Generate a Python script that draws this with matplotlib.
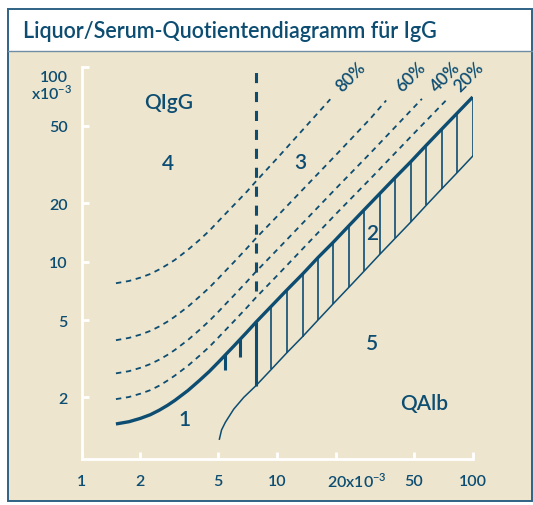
import matplotlib
matplotlib.use("Agg")
import matplotlib.pyplot as plt
from matplotlib.patches import Rectangle
from matplotlib.lines import Line2D

# Farben
blau = "#0d4d72"
beige = "#ede5cd"
rand = "#2f6285"
gewicht = "semibold"

plt.rcParams['font.family'] = ['Lato', 'DejaVu Sans']

# Obere Grenzlinie (dicke Kurve), QAlb und QIgG jeweils x10^-3
qalb_kurve = [1.5, 1.75, 2, 2.25, 2.5, 2.75, 3, 3.5, 4, 4.5, 5, 5.5, 6, 6.5, 7]
qigg_kurve = [1.46, 1.50, 1.56, 1.63, 1.72, 1.82, 1.93, 2.17, 2.44, 2.72, 3.03, 3.35, 3.67, 4.0, 4.33]

# Schraffierter Bereich 2 (Senkrechte zwischen oberer und unterer Grenze)
schraffur_x = [7.8, 9.35, 11.2, 13.5, 16.2, 19.4, 23.3, 27.9, 33.5, 40.2, 48.3, 57.9, 69.5, 83.3, 100]
schraffur_oben = [4.88, 5.90, 7.13, 8.63, 10.5, 12.6, 15.3, 18.5, 22.4, 27.1, 32.7, 39.7, 48.1, 58.1, 70.3]
schraffur_unten = [2.30, 2.79, 3.39, 4.11, 5.01, 6.08, 7.38, 8.95, 10.9, 13.2, 16.0, 19.5, 23.7, 28.7, 34.9]

# Untere Grenzlinie, Anfangsstueck
unten_x = [5.07, 5.2, 5.44, 6.0, 6.75]
unten_y = [1.22, 1.36, 1.49, 1.74, 2.0]

# Linien fuer intrathekale Fraktion (20 %, 40 %, 60 %, 80 %)
p_x = [1.5, 1.75, 2, 2.25, 2.5, 2.75, 3, 3.5, 4, 4.5, 5, 5.5, 6, 6.5, 7, 7.8]
p20_x = p_x + [10, 20, 30, 50, 73.8]
p20_y = [1.96, 2.01, 2.09, 2.18, 2.30, 2.44, 2.59, 2.91, 3.27, 3.64, 4.06, 4.49, 4.92, 5.36, 5.80, 6.54,
         8.47, 17.6, 26.7, 45.6, 68.3]
p40_x = p_x + [10, 20, 30, 55]
p40_y = [2.66, 2.73, 2.84, 2.97, 3.13, 3.31, 3.51, 3.95, 4.44, 4.95, 5.51, 6.10, 6.68, 7.28, 7.88, 8.88,
         11.5, 23.8, 36.2, 68.8]
p60_x = p_x + [10, 20, 30, 36.1]
p60_y = [3.94, 4.05, 4.21, 4.40, 4.64, 4.91, 5.21, 5.86, 6.59, 7.34, 8.18, 9.05, 9.91, 10.8, 11.7, 13.2,
         17.1, 35.4, 54.5, 67.5]
p80_x = p_x + [10, 15, 18.7]
p80_y = [7.74, 7.95, 8.27, 8.64, 9.12, 9.65, 10.2, 11.5, 12.9, 14.4, 16.1, 17.8, 19.5, 21.2, 22.9, 25.9,
         34.0, 53.5, 68.5]
prozent = ["20%", "40%", "60%", "80%"]
prozent_pos = [(96.0, 90.4), (72.6, 90.4), (48.2, 90.4), (23.9, 89.4)]

# Altersgrenze (senkrechte Strichlinie) und kurze Markierungen
grenze_x = 7.8
grenze_y = [7.1, 100]
marken_x = [5.44, 6.49]
marken_oben = [3.35, 4.0]
marken_unten = [2.78, 3.24]

# Beschriftungen der Bereiche
bereiche = ["QIgG", "4", "3", "2", "5", "1", "QAlb"]
bereiche_pos = [(2.78, 66.4), (2.77, 32.2), (13.1, 32.5), (30.5, 14.1), (30.6, 3.81), (3.37, 1.54), (56.5, 1.87)]

x_ticks = [1, 2, 5, 10, 20, 50, 100]
x_labels = ["1", "2", "5", "10", "", "50", "100"]
y_ticks = [2, 5, 10, 20, 50, 100]
y_labels = ["2", "5", "10", "20", "50", ""]

W, H = 533, 506
fig = plt.figure(figsize=(W / 100, H / 100), dpi=100)
fig.patch.set_facecolor("white")

def fx(px):
    return px / W

def fy(py):
    return 1 - py / H

# Rahmen, Titelfeld und beiger Hintergrund
fig.add_artist(Rectangle((fx(8), fy(502)), fx(531.5) - fx(8), fy(52) - fy(502),
                         transform=fig.transFigure, facecolor=beige, edgecolor="none", zorder=0))
fig.add_artist(Rectangle((fx(8), fy(502)), fx(531.5) - fx(8), fy(10) - fy(502),
                         transform=fig.transFigure, facecolor="none", edgecolor=rand, lw=1.4, zorder=1))
fig.add_artist(Line2D([fx(8), fx(531.5)], [fy(52), fy(52)], transform=fig.transFigure,
                      color="#6f8ea4", lw=1.0, zorder=1))
fig.text(fx(23), fy(31), "Liquor/Serum-Quotientendiagramm für IgG", ha="left", va="center",
         fontsize=15.5, color=blau, fontweight=gewicht)

ax = fig.add_axes([fx(81.5), fy(460), fx(472.7) - fx(81.5), fy(68.3) - fy(460)])
ax.set_facecolor("none")
ax.set_xscale("log")
ax.set_yscale("log")
ax.set_xlim(1, 100)
ax.set_ylim(0.964, 100)

# dicke obere Grenzkurve
ax.plot(qalb_kurve + schraffur_x, qigg_kurve + schraffur_oben, color=blau, lw=2.4,
        solid_capstyle="butt", solid_joinstyle="round")
# duenne untere Grenzkurve
ax.plot(unten_x + schraffur_x, unten_y + schraffur_unten, color=blau, lw=1.1,
        solid_joinstyle="round")
# Schraffur
for i, x in enumerate(schraffur_x):
    ax.plot([x, x], [schraffur_unten[i], schraffur_oben[i]], color=blau,
            lw=2.2 if i == 0 else 1.2, solid_capstyle="butt")
for i, x in enumerate(marken_x):
    ax.plot([x, x], [marken_unten[i], marken_oben[i]], color=blau, lw=2.2, solid_capstyle="butt")

# Prozentlinien
for xs, ys in [(p20_x, p20_y), (p40_x, p40_y), (p60_x, p60_y), (p80_x, p80_y)]:
    ax.plot(xs, ys, color=blau, lw=1.3, dashes=(3, 2.6))
for txt, (x, y) in zip(prozent, prozent_pos):
    ax.text(x, y, txt, rotation=45, rotation_mode="anchor", ha="center", va="center",
            fontsize=12.5, color=blau, fontweight=gewicht, clip_on=False)

# senkrechte Strichlinie
ax.plot([grenze_x, grenze_x], grenze_y, color=blau, lw=2.2, dashes=(3.3, 2.9))

for txt, (x, y) in zip(bereiche, bereiche_pos):
    ax.text(x, y, txt, ha="center", va="center", fontsize=15, color=blau, fontweight=gewicht)

# Achsen
for s in ["top", "right"]:
    ax.spines[s].set_visible(False)
for s in ["left", "bottom"]:
    ax.spines[s].set_color("white")
    ax.spines[s].set_linewidth(2)
ax.minorticks_off()
ax.set_xticks(x_ticks)
ax.set_xticklabels(x_labels, fontweight=gewicht)
ax.set_yticks(y_ticks)
ax.set_yticklabels(y_labels, fontweight=gewicht)
ax.tick_params(axis="both", direction="in", length=5, width=2, color="white",
               labelcolor=blau, labelsize=11.5)
ax.tick_params(axis="x", pad=11)
ax.tick_params(axis="y", pad=10)

fig.text(fx(68), fy(82), "100", ha="right", va="baseline", fontsize=11.5, color=blau,
         fontweight=gewicht)
fig.text(fx(72), fy(99.5), r"x10$^{\mathregular{-3}}$", ha="right", va="baseline",
         fontsize=11.5, color=blau, fontweight=gewicht)
fig.text(fx(327), fy(488), r"20x10$^{\mathregular{-3}}$", ha="left", va="baseline",
         fontsize=11.5, color=blau, fontweight=gewicht)

fig.savefig("out.png", dpi=100)
